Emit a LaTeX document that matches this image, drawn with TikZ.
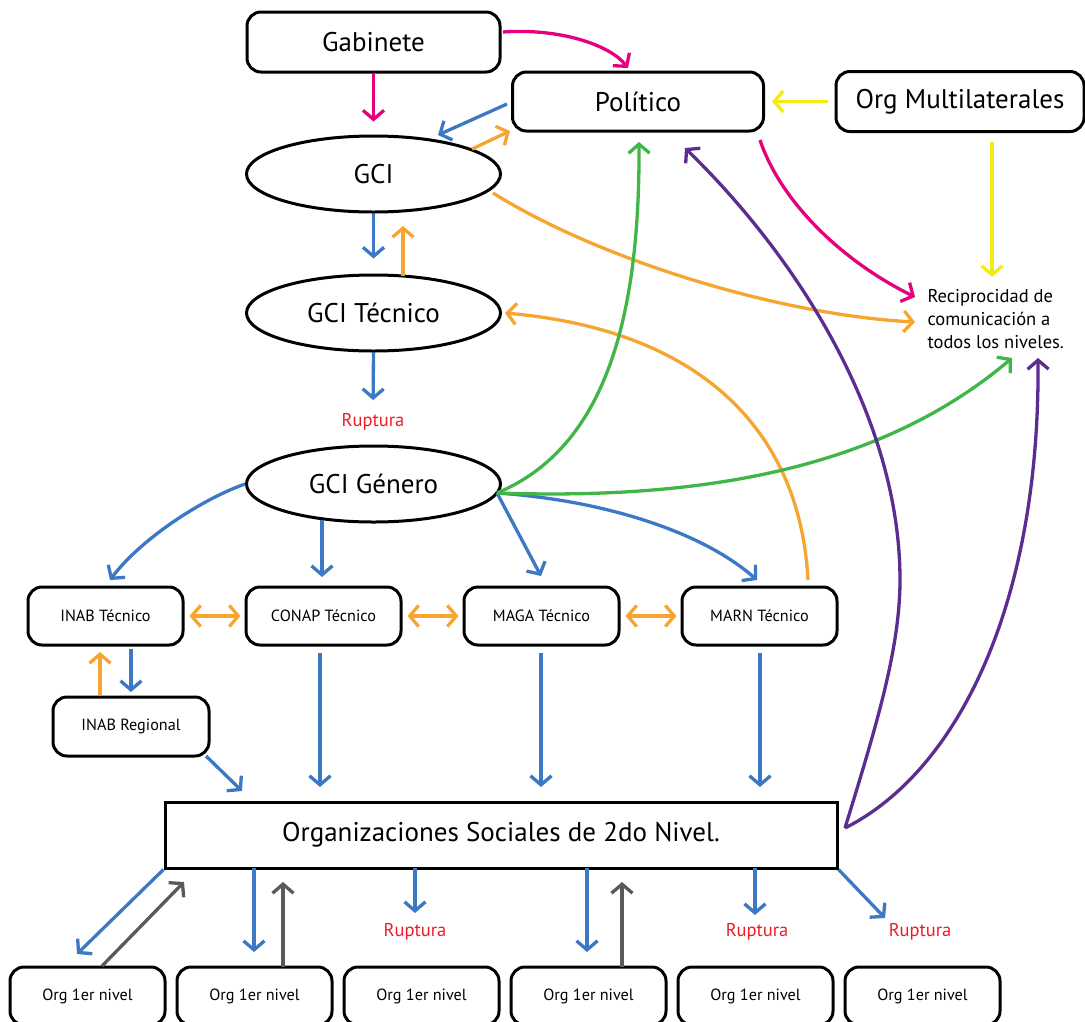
\documentclass[tikz,border=0pt]{standalone}
\usepackage{fontspec}
\setmainfont{PT Sans}
\usetikzlibrary{arrows.meta,shapes.geometric}
\definecolor{cpink}{HTML}{E6007E}
\definecolor{cyel}{HTML}{F4EA14}
\definecolor{cblue}{HTML}{3C78C3}
\definecolor{corange}{HTML}{F7A531}
\definecolor{cgreen}{HTML}{40B648}
\definecolor{cpurple}{HTML}{5B2D91}
\definecolor{cgray}{HTML}{5A5A5A}
\definecolor{cred}{HTML}{ED1C24}
\begin{document}
\begin{tikzpicture}[x=1pt,y=-1pt,
  box/.style={draw, rounded corners=14pt, line width=3pt, inner sep=0pt, align=center},
  big/.style={font=\fontsize{27}{31}\selectfont},
  small/.style={font=\fontsize{16.2}{19}\selectfont},
  ell/.style={draw, ellipse, line width=3pt, inner sep=0pt, minimum width=254pt, minimum height=76pt, big},
  tbox/.style={box, small, minimum width=155pt, minimum height=58pt},
  obox/.style={box, small, minimum width=155pt, minimum height=58pt},
  rup/.style={text=cred, font=\fontsize{18.5}{21}\selectfont},
  arr/.style={-{Straight Barb[length=9pt,width=21pt]}, line width=3.3pt},
  darr/.style={{Straight Barb[length=9pt,width=21pt]}-{Straight Barb[length=9pt,width=21pt]}, line width=3.3pt}
]
\useasboundingbox (0,0) rectangle (1085,1021);
\clip (0,0) rectangle (1085,1021);

% nodes
\node[box, big, minimum width=253pt, minimum height=60pt] (gab) at (373.5,42) {Gabinete};
\node[box, big, minimum width=251pt, minimum height=59pt] (pol) at (638,101.5) {Político};
\node[box, big, minimum width=248pt, minimum height=60pt] (orgm) at (960,101.5) {Org Multilaterales};
\node[ell] (gci) at (373.5,174) {GCI};
\node[ell] (gcit) at (373.5,313) {GCI Técnico};
\node[rup] (rup1) at (373,422) {Ruptura};
\node[ell] (gcig) at (373.5,484) {GCI Género};
\node[tbox] (inabt) at (105.5,616) {INAB Técnico};
\node[tbox] (conapt) at (323.5,616) {CONAP Técnico};
\node[tbox] (magat) at (541.5,616) {MAGA Técnico};
\node[tbox] (marnt) at (759.5,616) {MARN Técnico};
\node[tbox, minimum width=156pt, minimum height=59pt] (inabr) at (131,726.5) {INAB Regional};
\node[draw, line width=3pt, big, minimum width=672pt, minimum height=66pt, inner sep=0pt] (orgs) at (501,835) {Organizaciones Sociales de 2do Nivel.};
\node[obox] (o1) at (87.5,996) {Org 1er nivel};
\node[obox] (o2) at (254.5,996) {Org 1er nivel};
\node[obox] (o3) at (421.5,996) {Org 1er nivel};
\node[obox] (o4) at (588.5,996) {Org 1er nivel};
\node[obox] (o5) at (755.5,996) {Org 1er nivel};
\node[obox] (o6) at (922.5,996) {Org 1er nivel};
\node[rup] (rup2) at (415,932) {Ruptura};
\node[rup] (rup3) at (757,932) {Ruptura};
\node[rup] (rup4) at (920,932) {Ruptura};
\node[align=left, anchor=west, font=\fontsize{18.5}{23}\selectfont] (rec) at (924,319) {Reciprocidad de\\comunicación a\\todos los niveles.};

% free ends
\coordinate (gabA) at (503,32);   \coordinate (polA) at (628,68);
\coordinate (polB) at (760,140);  \coordinate (recA) at (915,297);
\coordinate (orgmB) at (992,142); \coordinate (recB) at (992,277);
\coordinate (polC) at (507,104);  \coordinate (gciA) at (438,135);
\coordinate (gciB) at (472,149);  \coordinate (polD) at (510,131);
\coordinate (gcitA) at (403,276); \coordinate (gciC) at (403,226);
\coordinate (gciD) at (493,193);  \coordinate (recC) at (915,322);
\coordinate (marnA) at (808,580); \coordinate (gcitB) at (505,313);
\coordinate (gcigA) at (497,493); \coordinate (polE) at (639,142);
\coordinate (recD) at (1012,358);
\coordinate (inabA) at (110,580);
\coordinate (gcigB) at (322,520); \coordinate (conA) at (322,577);
\coordinate (magA) at (541,576);  \coordinate (marnB) at (757,580);
\coordinate (inabB) at (131,649); \coordinate (inabrA) at (131,692);
\coordinate (inabrB) at (100,695);\coordinate (inabC) at (100,652);
\coordinate (inabrC) at (206,756);\coordinate (orgsA) at (242,791);
\coordinate (orgsR) at (845,828); \coordinate (polF) at (685,148);
\coordinate (recE) at (1038,358);
\coordinate (orgsB) at (320,787); \coordinate (orgsC) at (541,787);
\coordinate (orgsD) at (760,787);
\coordinate (o1A) at (77,954);    \coordinate (o1B) at (102,966);
\coordinate (orgsE) at (184,882);
\coordinate (orgsF) at (254,868); \coordinate (o2A) at (254,952);
\coordinate (o2B) at (283,967);   \coordinate (orgsG) at (283,882);
\coordinate (orgsH) at (415,868); \coordinate (rup2A) at (415,913);
\coordinate (orgsI) at (587,868); \coordinate (o4A) at (587,952);
\coordinate (o4B) at (622,967);   \coordinate (orgsJ) at (622,882);
\coordinate (orgsK) at (755,868); \coordinate (rup3A) at (755,915);
\coordinate (rup4A) at (885,918);

% pink
\draw[arr,cpink,shorten >=13pt] (gab.south) -- (gci.north);
\draw[arr,cpink] (gabA) .. controls (560,28) and (610,45) .. (polA);
\draw[arr,cpink] (polB) .. controls (780,200) and (840,260) .. (recA);

% yellow
\draw[arr,cyel,shorten <=7pt,shorten >=7pt] (orgm.west) -- (pol.east);
\draw[arr,cyel] (orgmB) -- (recB);

% blue
\draw[arr,cblue] (polC) -- (gciA);
\draw[arr,cblue,shorten >=15pt] (gci.south) -- (gcit.north);
\draw[arr,cblue,shorten >=10pt] (gcit.south) -- (rup1.north);
\draw[arr,cblue] (gcig.west) .. controls (200,500) and (140,540) .. (inabA);
\draw[arr,cblue] (gcigB) -- (conA);
\draw[arr,cblue] (gcigA) -- (magA);
\draw[arr,cblue] (gcigA) .. controls (600,500) and (700,530) .. (marnB);
\draw[arr,cblue] (inabB) -- (inabrA);
\draw[arr,cblue] (inabrC) -- (orgsA);
\draw[arr,cblue,shorten <=6pt] ([xshift=-3.5pt]conapt.south) -- (orgsB);
\draw[arr,cblue,shorten <=6pt] ([xshift=-0.5pt]magat.south) -- (orgsC);
\draw[arr,cblue,shorten <=6pt] ([xshift=0.5pt]marnt.south) -- (orgsD);

% orange
\draw[arr,corange] (gciB) -- (polD);
\draw[arr,corange] (gcitA) -- (gciC);
\draw[arr,corange] (gciD) .. controls (600,260) and (780,315) .. (recC);
\draw[arr,corange] (marnA) .. controls (800,430) and (700,330) .. (gcitB);
\draw[darr,corange,shorten <=5pt,shorten >=4pt] (inabt.east) -- (conapt.west);
\draw[darr,corange,shorten <=5pt,shorten >=4pt] (conapt.east) -- (magat.west);
\draw[darr,corange,shorten <=5pt,shorten >=4pt] (magat.east) -- (marnt.west);
\draw[arr,corange] (inabrB) -- (inabC);

% green
\draw[arr,cgreen] (gcigA) .. controls (600,450) and (640,330) .. (polE);
\draw[arr,cgreen] (gcigA) .. controls (700,500) and (880,470) .. (recD);

% purple
\draw[arr,cpurple] (orgsR) .. controls (875,730) and (900,650) .. (900,580)
   .. controls (900,420) and (800,260) .. (polF);
\draw[arr,cpurple] (orgsR) .. controls (960,770) and (1040,600) .. (recE);

% bottom level
\draw[arr,cblue] (orgs.south west) -- (o1A);
\draw[arr,cgray] (o1B) -- (orgsE);
\draw[arr,cblue] (orgsF) -- (o2A);
\draw[arr,cgray] (o2B) -- (orgsG);
\draw[arr,cblue] (orgsH) -- (rup2A);
\draw[arr,cblue] (orgsI) -- (o4A);
\draw[arr,cgray] (o4B) -- (orgsJ);
\draw[arr,cblue] (orgsK) -- (rup3A);
\draw[arr,cblue] (orgs.south east) -- (rup4A);
\end{tikzpicture}
\end{document}
